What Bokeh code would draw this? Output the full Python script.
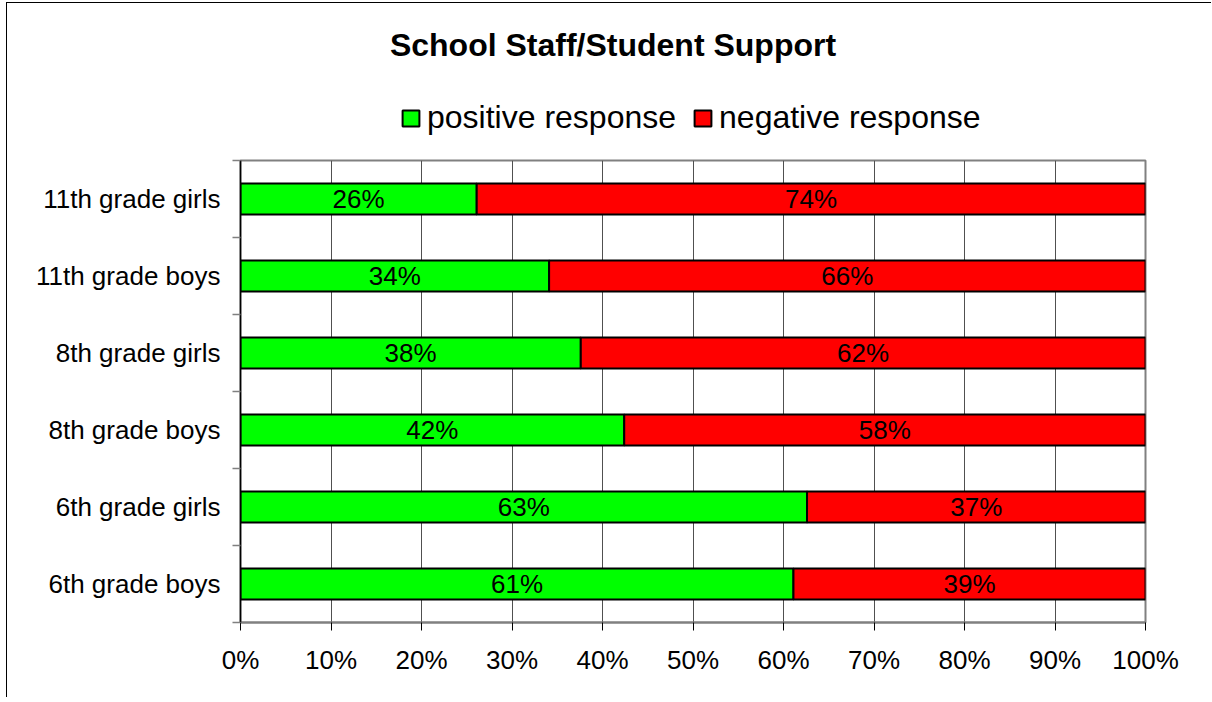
from bokeh.plotting import figure
from bokeh.layouts import column
from bokeh.models import (FixedTicker, PrintfTickFormatter, Legend, LegendItem,
                          Label, ColumnDataSource, Range1d)
from bokeh.core.properties import value
from bokeh.embed import file_html
from bokeh.resources import INLINE

# ---- data (bottom to top) ----
categories = ["6th grade boys", "6th grade girls", "8th grade boys",
              "8th grade girls", "11th grade boys", "11th grade girls"]
positive = [61.1, 62.6, 42.4, 37.6, 34.1, 26.1]
negative = [38.9, 37.4, 57.6, 62.4, 65.9, 73.9]
x_ticks = [0, 10, 20, 30, 40, 50, 60, 70, 80, 90, 100]
title_text = "School Staff/Student Support"
series_names = ["positive response", "negative response"]
series_colors = ["#00FF00", "#FF0000"]

FONT = "Liberation Sans"

n = len(categories)
centers = [i + 0.5 for i in range(n)]
bounds = [i for i in range(n + 1)]
total = [p_ + q_ for p_, q_ in zip(positive, negative)]

src = ColumnDataSource(dict(
    y=centers,
    pos=positive,
    neg=negative,
    tot=total,
    pos_mid=[p_ / 2 for p_ in positive],
    neg_mid=[p_ + q_ / 2 for p_, q_ in zip(positive, negative)],
    pos_lbl=["%d%%" % round(p_) for p_ in positive],
    neg_lbl=["%d%%" % round(q_) for q_ in negative],
))

W = 1204
HEAD_H = 150

# ---------------- header: title + legend ----------------
head = figure(width=W, height=HEAD_H, output_backend="svg", toolbar_location=None,
              x_range=Range1d(0, 100), y_range=Range1d(0, HEAD_H),
              x_axis_type=None, y_axis_type=None,
              min_border_left=0, min_border_right=0,
              min_border_top=0, min_border_bottom=0)
head.grid.grid_line_color = None
head.outline_line_color = None
head.background_fill_color = "white"
head.border_fill_color = "white"

# legend proxies (no drawable data; only their legend swatches are shown)
nan = float("nan")
proxy = ColumnDataSource(dict(y=[nan], l=[nan], r=[nan]))
lg_r = [head.hbar(y="y", left="l", right="r", height=1, source=proxy,
                  fill_color=c, line_color="black", line_width=2)
        for c in series_colors]

legend = Legend(items=[LegendItem(label=nm, renderers=[r])
                       for nm, r in zip(series_names, lg_r)],
                orientation="horizontal", location=(160, 17))
legend.label_text_font = FONT
legend.label_text_font_size = "32px"
legend.label_text_color = "black"
legend.glyph_width = 21
legend.glyph_height = 20
legend.label_standoff = 6
legend.spacing = 16
legend.padding = 0
legend.margin = 0
legend.border_line_color = None
legend.background_fill_alpha = 0
head.add_layout(legend, "center")

title = Label(x=372.5, y=109, x_units="screen", text=title_text,
              text_align="center", text_baseline="middle",
              text_font=FONT, text_font_size="32px", text_font_style="bold",
              text_color="black")
head.add_layout(title)

# ---------------- main chart ----------------
p = figure(width=W, height=544, output_backend="svg", toolbar_location=None,
           x_range=Range1d(0, 100), y_range=Range1d(0, n),
           min_border_left=233, min_border_right=66,
           min_border_top=7, min_border_bottom=75)
p.background_fill_color = "white"
p.border_fill_color = "white"
p.outline_line_color = "#808080"
p.outline_line_width = 2

# grid
p.ygrid.grid_line_color = None
p.xgrid.ticker = FixedTicker(ticks=x_ticks)
p.xgrid.grid_line_color = "#505050"
p.xgrid.grid_line_width = 1

# x axis
xa = p.xaxis[0]
xa.ticker = FixedTicker(ticks=x_ticks)
xa.formatter = PrintfTickFormatter(format="%d%%")
xa.axis_line_color = "#808080"
xa.axis_line_width = 2
xa.major_tick_out = 8
xa.major_tick_in = 0
xa.major_tick_line_color = "black"
xa.minor_tick_line_color = None
xa.major_label_text_font = FONT
xa.major_label_text_font_size = "26px"
xa.major_label_text_color = "black"
xa.major_label_standoff = 14

# y axis
ya = p.yaxis[0]
ya.ticker = FixedTicker(ticks=centers, minor_ticks=bounds)
ya.major_label_overrides = {c: lab for c, lab in zip(centers, categories)}
ya.axis_line_color = "black"
ya.axis_line_width = 1.5
ya.major_tick_out = 0
ya.major_tick_in = 0
ya.minor_tick_out = 8
ya.minor_tick_in = 0
ya.minor_tick_line_color = "#808080"
ya.minor_tick_line_width = 1.5
ya.major_label_text_font = FONT
ya.major_label_text_font_size = "26px"
ya.major_label_text_color = "black"
ya.major_label_standoff = 12

# bars
p.hbar(y="y", left=0, right="pos", height=0.4, source=src,
       fill_color=series_colors[0], line_color="black", line_width=2)
p.hbar(y="y", left="pos", right="tot", height=0.4, source=src,
       fill_color=series_colors[1], line_color="black", line_width=2)

# value labels
p.text(x="pos_mid", y="y", text="pos_lbl", source=src, text_align="center",
       text_baseline="middle", text_font=value(FONT), text_font_size="26px",
       text_color="black")
p.text(x="neg_mid", y="y", text="neg_lbl", source=src, text_align="center",
       text_baseline="middle", text_font=value(FONT), text_font_size="26px",
       text_color="black")

layout = column(head, p, spacing=0)
layout.stylesheets = [":host { margin-left: 6px; margin-top: 2px; "
                      "border-left: 1px solid black; border-top: 1px solid black; }"]

open("out.html", "w").write(file_html(layout, INLINE))
